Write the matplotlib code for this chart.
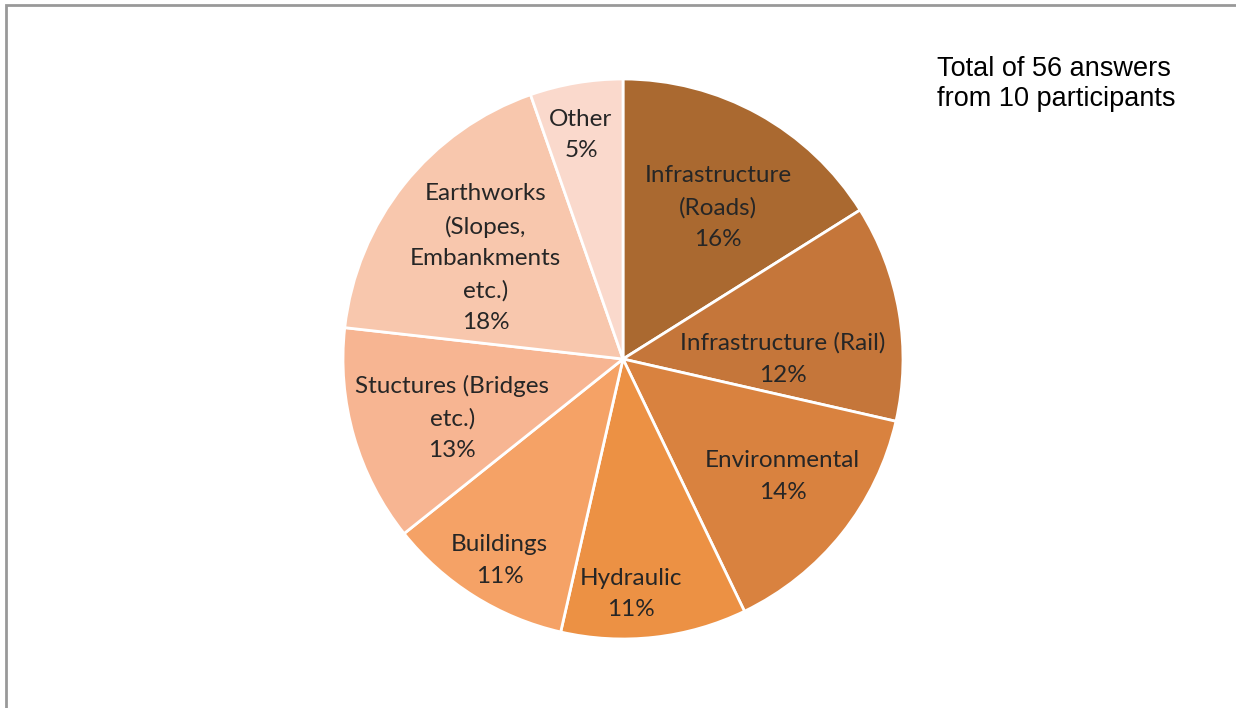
import matplotlib.pyplot as plt
import matplotlib.patches as patches

# survey answers per category (56 in total)
categories = ['Infrastructure\n(Roads)', 'Infrastructure (Rail)', 'Environmental',
              'Hydraulic', 'Buildings', 'Stuctures (Bridges\netc.)',
              'Earthworks\n(Slopes,\nEmbankments\netc.)', 'Other']
counts = [9, 7, 8, 6, 6, 7, 10, 3]
pct_labels = ['16%', '12%', '14%', '11%', '11%', '13%', '18%', '5%']
colors = ['#AA6930', '#C5763A', '#D9823F', '#EC9144', '#F5A266', '#F7B592',
          '#F8C7AD', '#FAD9CC']

# label placement, as fractions of the radius
label_xy = [(0.34, 0.54), (0.57, 0.0), (0.57, -0.42), (0.03, -0.84),
            (-0.44, -0.72), (-0.61, -0.21), (-0.49, 0.36), (-0.15, 0.80)]

W, H = 1236, 708
fig = plt.figure(figsize=(W / 100, H / 100), dpi=100)
fig.patch.set_facecolor('white')

cx, cy, r = 623, 349, 280
ax = fig.add_axes([(cx - r) / W, (cy - r) / H, 2 * r / W, 2 * r / H])
ax.pie(counts, colors=colors, startangle=90, counterclock=False, radius=1,
       wedgeprops=dict(edgecolor='white', linewidth=2))
ax.set_xlim(-1, 1)
ax.set_ylim(-1, 1)
ax.set_aspect('equal')
ax.axis('off')

for (x, y), name, pct in zip(label_xy, categories, pct_labels):
    ax.text(x, y, name + '\n' + pct, ha='center', va='center', fontsize=17.5,
            family='Lato', color='#262626', linespacing=1.62)

fig.text(937 / W, 1 - 56 / H, 'Total of 56 answers\nfrom 10 participants',
         ha='left', va='top', fontsize=19.5, family='Liberation Sans',
         color='black', linespacing=1.2)

# chart area border (top and left edges visible)
fig.add_artist(patches.Rectangle((6 / W, -0.1), 1.2, 1 - 5 / H + 0.1,
                                 transform=fig.transFigure, fill=False,
                                 edgecolor='#999999', linewidth=2))

fig.savefig('out.png', dpi=100, facecolor='white')
